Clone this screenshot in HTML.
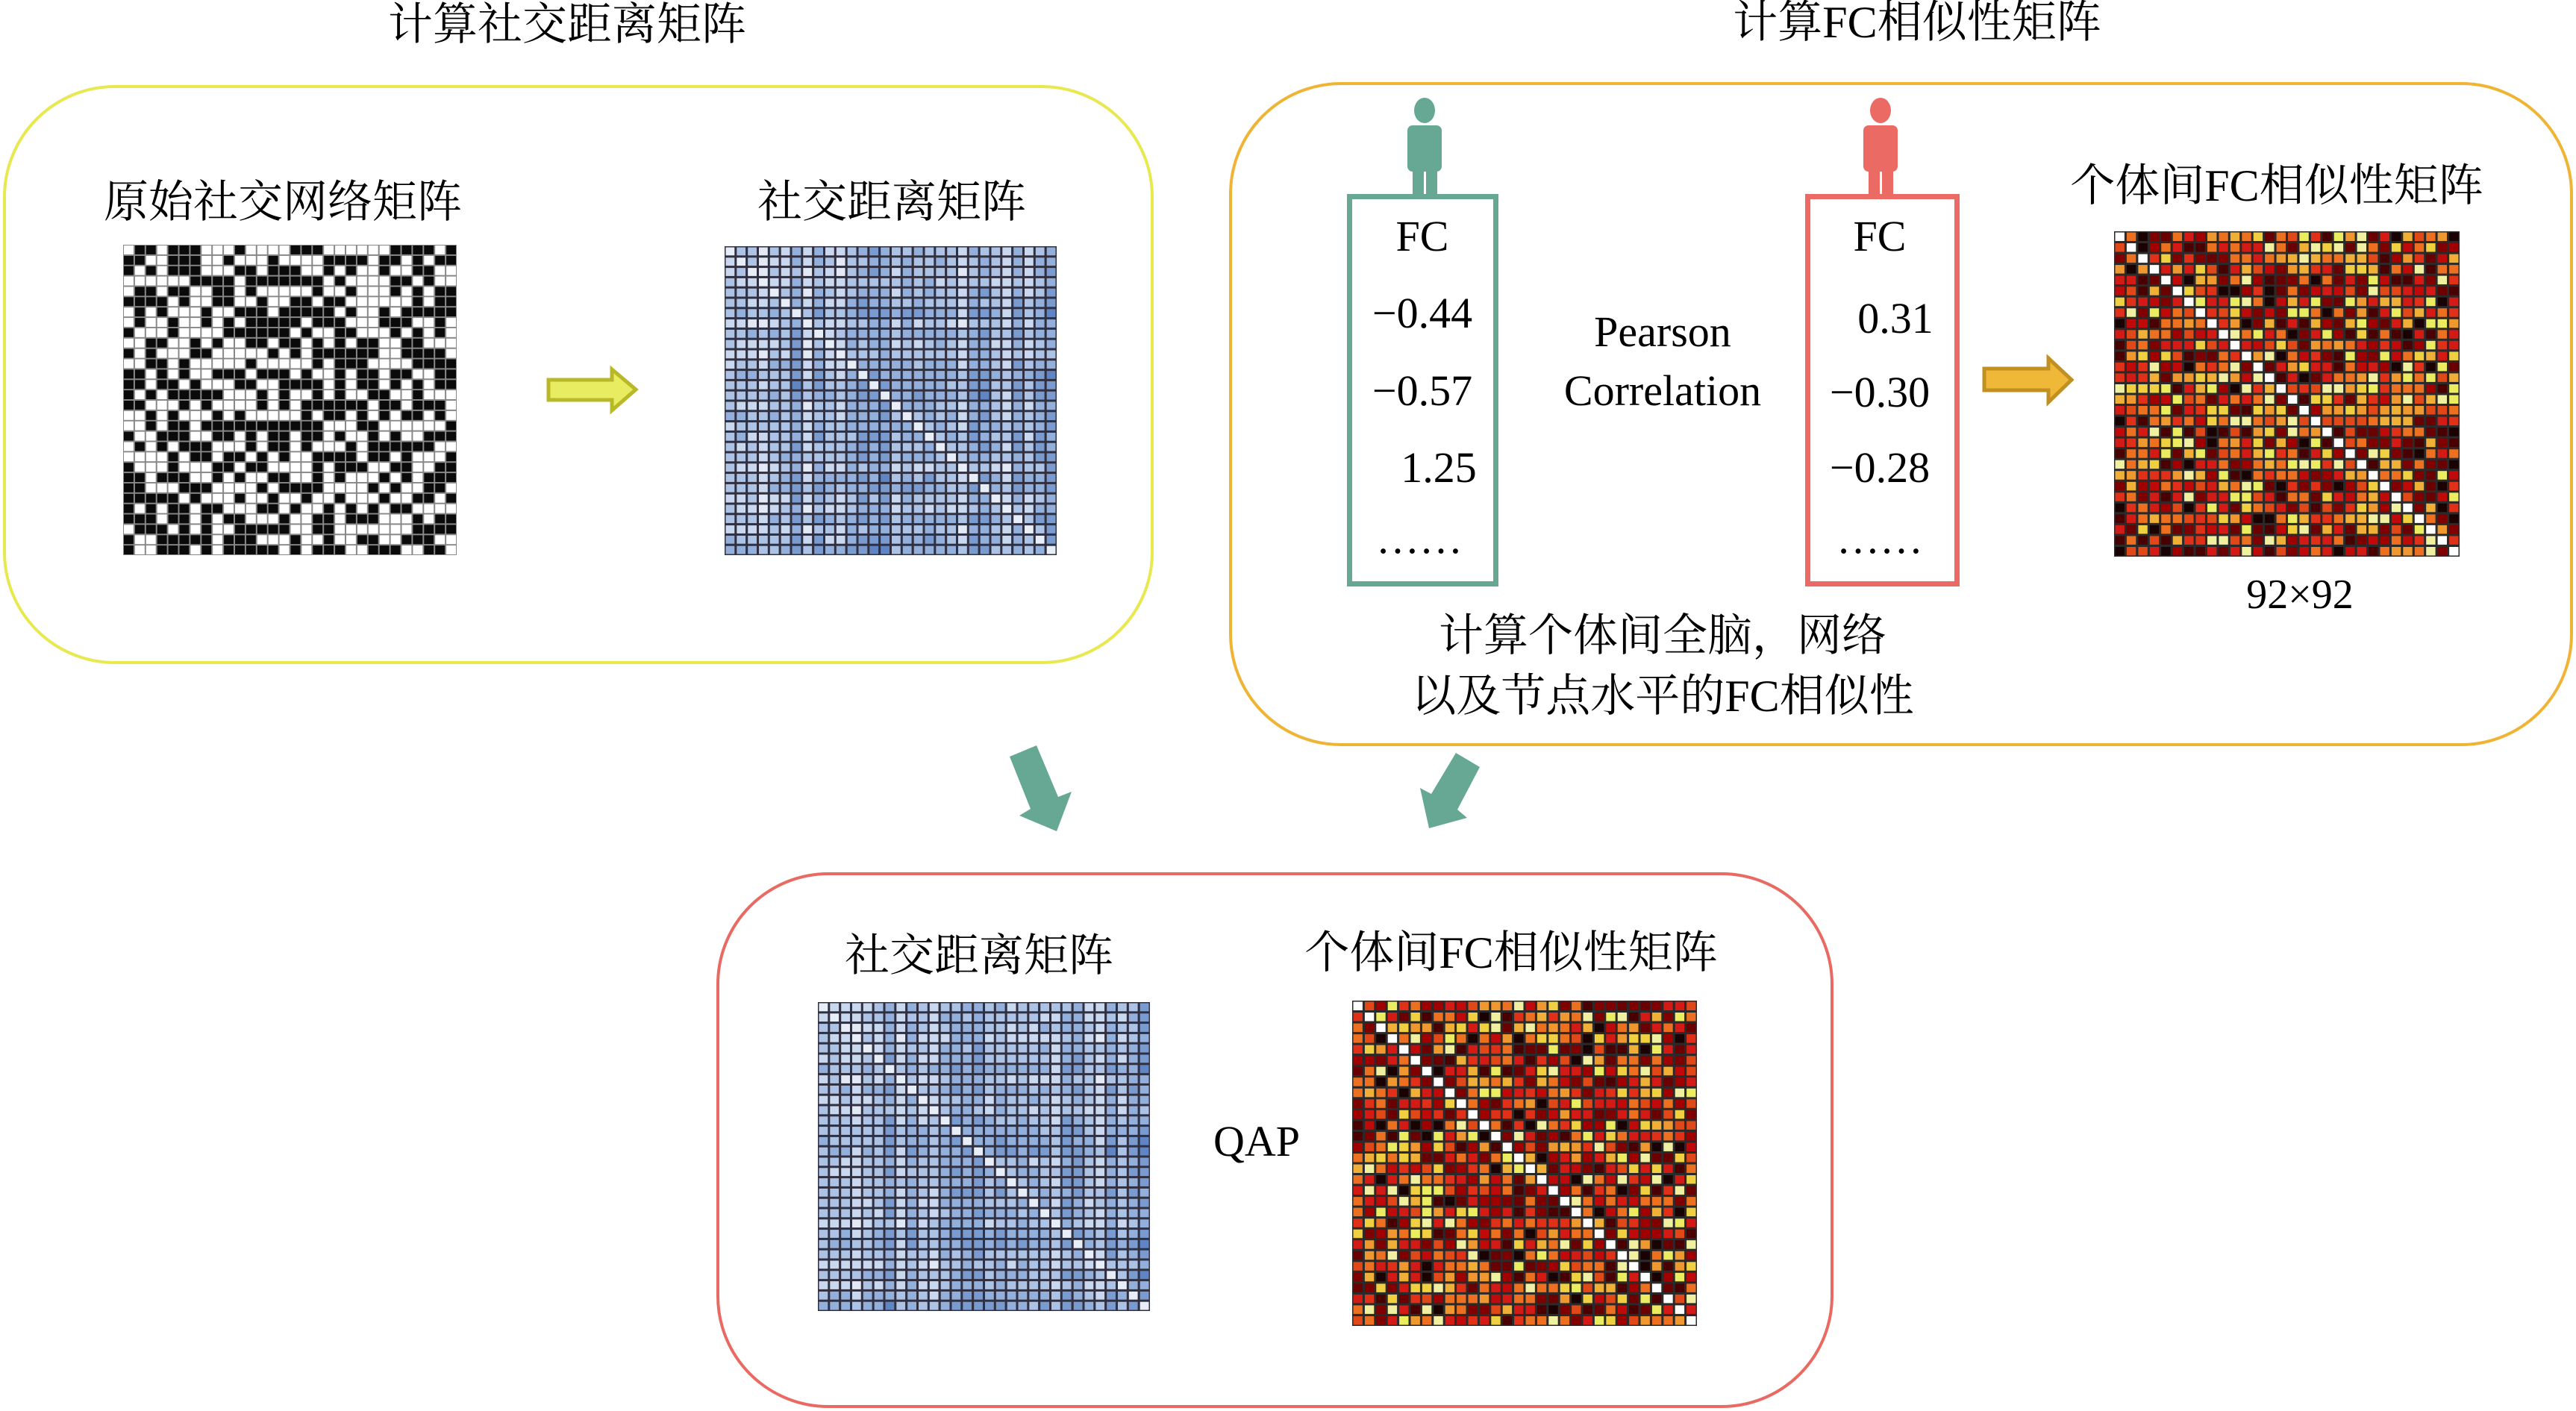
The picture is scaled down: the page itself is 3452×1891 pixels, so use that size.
<!DOCTYPE html>
<html><head><meta charset="utf-8"><style>
body{margin:0;width:3452px;height:1891px;background:#fff;position:relative;overflow:hidden;font-family:"Liberation Serif","Noto Serif CJK SC",serif;color:#000}
.t{position:absolute;white-space:nowrap;transform:translate(-50%,-50%);font-size:60px;line-height:1}
.box{position:absolute;box-sizing:border-box;border-radius:150px}
svg{position:absolute;left:0;top:0}
</style></head><body>
<div class="box" style="left:4px;top:114px;width:1542px;height:776px;border:4px solid #e8e850"></div>
<div class="box" style="left:1647px;top:110px;width:1801px;height:890px;border:4px solid #f0b435"></div>
<div class="box" style="left:960px;top:1169px;width:1497px;height:718px;border:4px solid #e86a62"></div>
<div style="position:absolute;left:1805px;top:260px;width:203px;height:526px;box-sizing:border-box;border:7px solid #66a893"></div>
<div style="position:absolute;left:2419px;top:260px;width:207px;height:526px;box-sizing:border-box;border:7px solid #ec6a64"></div>

<div class="t" style="left:760px;top:33px">计算社交距离矩阵</div>
<div class="t" style="left:2569px;top:30px">计算FC相似性矩阵</div>
<div class="t" style="left:379px;top:271px">原始社交网络矩阵</div>
<div class="t" style="left:1195px;top:271px">社交距离矩阵</div>
<div class="t" style="left:3051px;top:249px">个体间FC相似性矩阵</div>
<div class="t" style="left:3082px;top:797px;font-size:56px">92×92</div>
<div class="t" style="left:2228px;top:852px">计算个体间全脑，网络</div>
<div class="t" style="left:2228px;top:933px">以及节点水平的FC相似性</div>
<div class="t" style="left:1312px;top:1281px">社交距离矩阵</div>
<div class="t" style="left:2025px;top:1277px">个体间FC相似性矩阵</div>
<div class="t" style="left:1684px;top:1530px;font-size:58px">QAP</div>

<div class="t" style="left:1906px;top:317px;font-size:58px">FC</div>
<div class="t" style="left:1906px;top:420px;font-size:58px">−0.44</div>
<div class="t" style="left:1906px;top:524px;font-size:58px">−0.57</div>
<div class="t" style="left:1928px;top:627px;font-size:58px">1.25</div>
<div class="t" style="left:1902px;top:722px;font-size:58px">……</div>
<div class="t" style="left:2519px;top:317px;font-size:58px">FC</div>
<div class="t" style="left:2540px;top:427px;font-size:58px">0.31</div>
<div class="t" style="left:2519px;top:526px;font-size:58px">−0.30</div>
<div class="t" style="left:2519px;top:627px;font-size:58px">−0.28</div>
<div class="t" style="left:2519px;top:722px;font-size:58px">……</div>
<div class="t" style="left:2228px;top:445px;font-size:58px">Pearson</div>
<div class="t" style="left:2228px;top:524px;font-size:58px">Correlation</div>

<svg id="s" width="3452" height="1891">
<polygon points="735,509 820,509 820,495 852,522 820,550 820,536 735,536" fill="#e8ec60" stroke="#b8b828" stroke-width="5"/>
<polygon points="2659,494 2745,494 2745,480 2776,509 2745,539 2745,523 2659,523" fill="#f0b838" stroke="#c09020" stroke-width="5"/>
<polygon points="1353,1014 1389,999 1418,1068 1436,1061 1416,1114 1366,1093 1381,1084" fill="#66a893"/>
<polygon points="1951,1009 1983,1028 1953,1085 1966,1096 1915,1110 1903,1056 1918,1064" fill="#66a893"/>
<g fill="#66a893"><ellipse cx="1909" cy="148" rx="14" ry="17"/><rect x="1886" y="168" width="46" height="62" rx="7"/><rect x="1893" y="215" width="15" height="45"/><rect x="1911" y="215" width="15" height="45"/></g>
<g fill="#ec6a64"><ellipse cx="2520" cy="148" rx="14" ry="17"/><rect x="2497" y="168" width="46" height="62" rx="7"/><rect x="2504" y="215" width="15" height="45"/><rect x="2522" y="215" width="15" height="45"/></g>
<g id="m"></g>
</svg>
<script>
var seed=12345;
function r(){seed|=0;seed=seed+0x6D2B79F5|0;var t=Math.imul(seed^seed>>>15,1|seed);t=t+Math.imul(t^t>>>7,61|t)^t;return((t^t>>>14)>>>0)/4294967296;}
var g=document.getElementById('m'),h='';
function mat(x,y,w,hh,fn,line,lw){var n=30,cw=w/n,ch=hh/n;h+='<rect x="'+x+'" y="'+y+'" width="'+w+'" height="'+hh+'" fill="'+line+'"/>';
for(var i=0;i<n;i++)for(var j=0;j<n;j++){h+='<rect x="'+(x+j*cw+lw/2).toFixed(1)+'" y="'+(y+i*ch+lw/2).toFixed(1)+'" width="'+(cw-lw).toFixed(1)+'" height="'+(ch-lw).toFixed(1)+'" fill="'+fn(i,j)+'"/>';}}
mat(165,328,447,416,function(){return r()<0.55?'#0a0a0a':'#fff'},'#888',2);
var blues=['#e2e9f5','#c9d8ef','#adc3e5','#93afdb','#7a9bd0','#5f85c4','#4a70b6'];
var wt=[];for(var k=0;k<30;k++){wt.push(r()*2.6);}
function bf(i,j){if(i==j)return '#e8eef8';var v=Math.floor(wt[j]*1.0+wt[i]*0.6+r()*1.4);if(v>6)v=6;return blues[v];}
mat(971,330,445,414,bf,'#303040',3);
mat(1096,1343,445,414,bf,'#303040',3);
var reds=['#1a0202','#4a0000','#6a0000','#800000','#a00000','#c00a0a','#d41a14','#d41a14','#e03018','#e04818','#ec7020','#ec7020','#f09830','#f0b038','#f0d040','#ecec60','#f0f0a0'];
function rf(i,j){if(i==j)return '#fff';return reds[Math.floor(r()*reds.length)];}
seed=777;mat(2833,310,463,436,rf,'#2a2a2a',3);
seed=4242;mat(1812,1341,462,436,rf,'#2a2a2a',3);
g.innerHTML=h;
</script>
</body></html>
